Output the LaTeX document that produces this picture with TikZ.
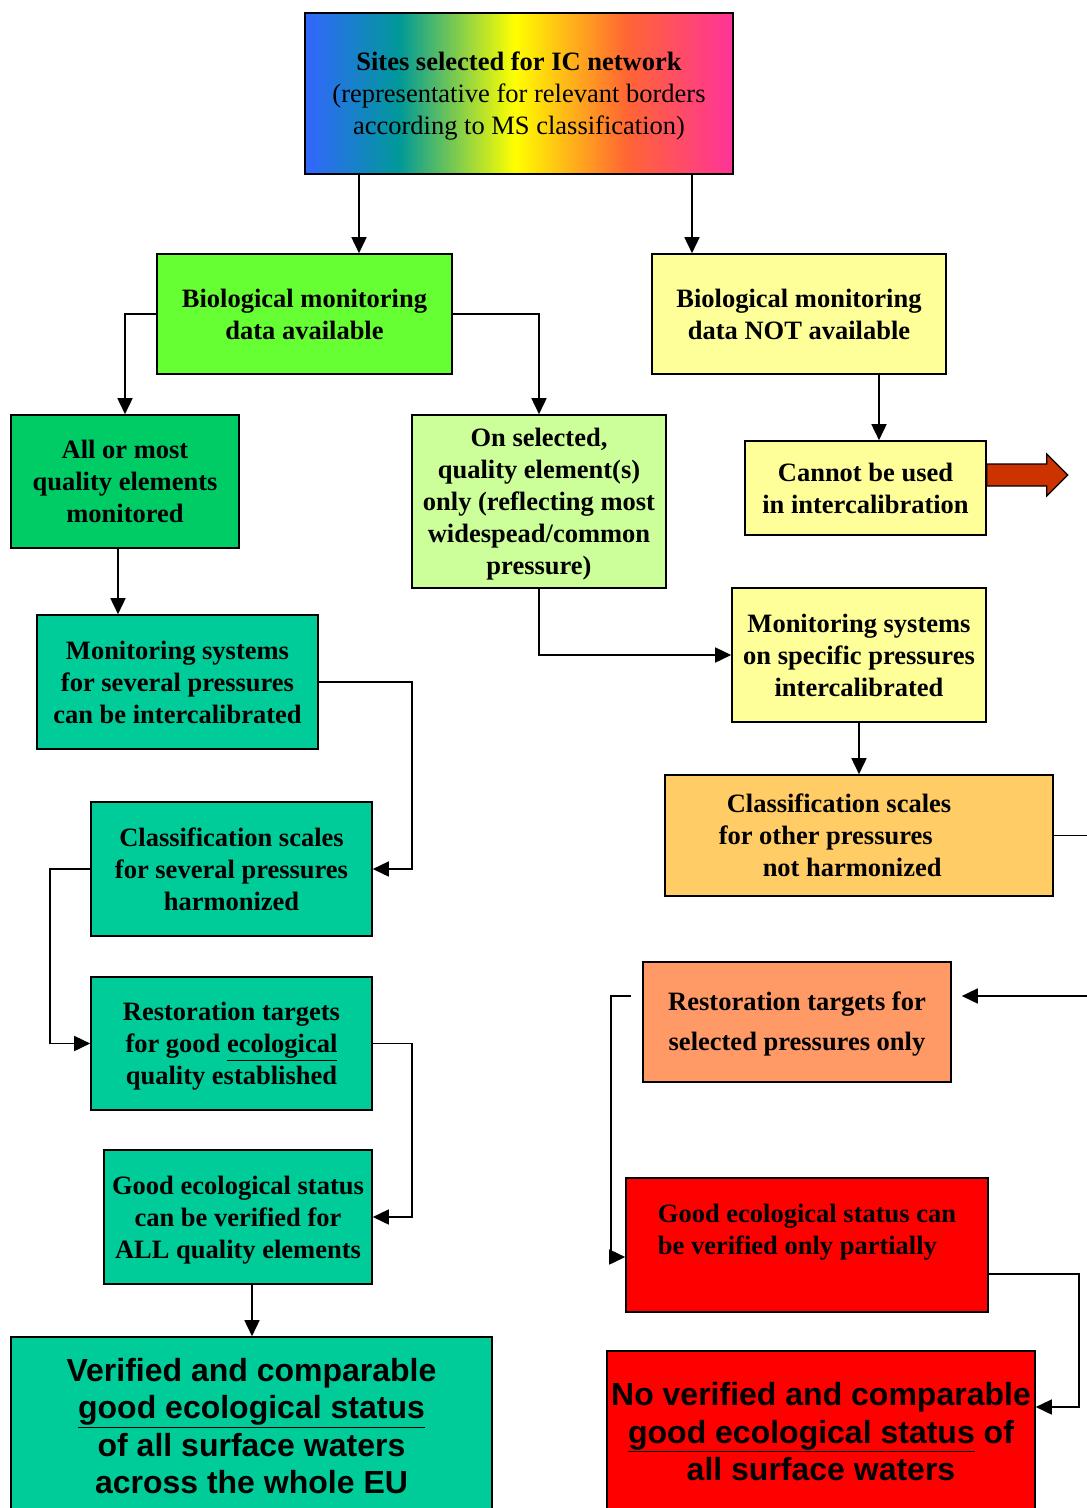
\documentclass[tikz,border=0pt]{standalone}
\usepackage{fontspec}
\setmainfont{Liberation Serif}
\newfontfamily\arialfont{Liberation Sans}
\usetikzlibrary{arrows.meta}

\definecolor{rbblue}{HTML}{3366FF}
\definecolor{rbteal}{HTML}{009999}
\definecolor{rbyellow}{HTML}{FFFF00}
\definecolor{rborange}{HTML}{FF6633}
\definecolor{rbpink}{HTML}{FF3399}
\definecolor{availgreen}{HTML}{66FF33}
\definecolor{paleyellow}{HTML}{FFFF99}
\definecolor{midgreen}{HTML}{00CC66}
\definecolor{palegreen}{HTML}{CCFF99}
\definecolor{seagreen}{HTML}{00CC99}
\definecolor{lightorange}{HTML}{FFCC66}
\definecolor{salmon}{HTML}{FF9966}
\definecolor{arrowred}{HTML}{CC3300}
\pgfdeclarehorizontalshading{rainbow}{100bp}{color(0bp)=(rbblue); color(25bp)=(rbblue); color(36bp)=(rbteal); color(49.5bp)=(rbyellow); color(62.5bp)=(rborange); color(75bp)=(rbpink); color(100bp)=(rbpink)}

\tikzset{
  box/.style={draw, line width=1.6pt, inner sep=0pt, align=center, text depth=-4pt,
    font=\bfseries\fontsize{26.5}{32}\selectfont},
  bigbox/.style={draw, line width=1.6pt, inner sep=0pt, align=center,
    font=\arialfont\bfseries\fontsize{32}{37.5}\selectfont},
  link/.style={line width=1.6pt, -{Triangle[length=16pt,width=15pt]}}
}

\begin{document}
\begin{tikzpicture}[x=1pt,y=-1pt]
	\useasboundingbox (0,0) rectangle (1087,1508);
		\node[box, shading=rainbow, minimum width=428pt, minimum height=161pt, font=\fontsize{26.5}{32}\selectfont] (sites) at (519,93.5)
			{\textbf{Sites selected for IC network}\\(representative for relevant borders\\according to MS classification)};
		\node[box, fill=availgreen, minimum width=295pt, minimum height=120pt] (avail) at (304.5,314) {Biological monitoring\\data available};
		\node[box, fill=paleyellow, minimum width=294pt, minimum height=120pt] (notavail) at (799,314) {Biological monitoring\\data NOT available};
		\node[box, fill=midgreen, minimum width=228pt, minimum height=133pt] (allmost) at (125,481.5) {All or most\\quality elements\\monitored};
		\node[box, fill=palegreen, minimum width=254pt, minimum height=173pt] (onsel) at (539,501.5) {On selected,\\quality element(s)\\only (reflecting most\\widespead/common\\pressure)};
		\node[box, fill=paleyellow, minimum width=241pt, minimum height=94pt] (cannot) at (865.5,488) {Cannot be used\\in intercalibration};
		\node[box, fill=seagreen, minimum width=281pt, minimum height=134pt] (monsev) at (177.5,682) {Monitoring systems\\for several pressures\\can be intercalibrated};
		\node[box, fill=paleyellow, minimum width=254pt, minimum height=134pt] (monspec) at (859,655) {Monitoring systems\\on specific pressures\\intercalibrated};
		\node[box, fill=seagreen, minimum width=281pt, minimum height=134pt] (clssev) at (231.5,869) {Classification scales\\for several pressures\\harmonized};
		\node[box, fill=lightorange, minimum width=388pt, minimum height=121pt, align=left] (clsother) at (859,835.5)
			{\hspace*{8pt}Classification scales\hspace*{48pt}\\for other pressures\\\hspace*{44pt}not harmonized};
		\node[box, fill=salmon, minimum width=308pt, minimum height=120pt, text depth=2pt, font=\bfseries\fontsize{26.5}{40}\selectfont] (ressel) at (797,1022) {Restoration targets for\\selected pressures only};
		\node[box, fill=seagreen, minimum width=281pt, minimum height=133pt] (resgood) at (231.5,1043.5) {Restoration targets\\for good \underline{ecological}\\quality established};
		\node[box, fill=seagreen, minimum width=268pt, minimum height=134pt] (goodall) at (238,1217) {Good ecological status\\can be verified for\\ALL quality elements};
		\node[box, fill=red, minimum width=362pt, minimum height=134pt, align=left, text depth=0pt] (partial) at (807,1245) {Good ecological status can\\be verified only partially\\\mbox{}};
		\node[bigbox, fill=seagreen, minimum width=481pt, minimum height=178pt] (verified) at (251.5,1426)
			{Verified and comparable\\\underline{good ecological status}\\of all surface waters\\across the whole EU};
		\node[bigbox, fill=red, minimum width=428pt, minimum height=162pt] (noverified) at (821,1432)
			{No verified and comparable\\\underline{good ecological status} of\\all surface waters};
	% connectors
		\draw[link] ([xshift=-160pt]sites.south) -- ([xshift=-160pt]sites.south |- avail.north);
		\draw[link] ([xshift=173pt]sites.south) -- ([xshift=173pt]sites.south |- notavail.north);
		\draw[link] (avail.west) -| (allmost.north);
		\draw[link] (avail.east) -| (onsel.north);
		\draw[link] ([xshift=80pt]notavail.south) -- ([xshift=80pt]notavail.south |- cannot.north);
		\draw[link] ([xshift=-7pt]allmost.south) -- ([xshift=-7pt]allmost.south |- monsev.north);
		\draw[link] (onsel.south) |- (monspec.west);
		\draw[link] (monspec.south) -- (clsother.north);
		\draw[link] (monsev.east) -- ++(93,0) |- (clssev.east);
		\draw[link] (clssev.west) -- ++(-40,0) |- (resgood.west);
		\draw[link] (resgood.east) -- ++(39,0) |- (goodall.east);
		\draw[link] ([xshift=14pt]goodall.south) -- ([xshift=14pt]goodall.south |- verified.north);
		\draw[link, shorten >=10pt] (clsother.east) -- ++(45,0) |- ([yshift=26pt]ressel.east);
		\draw[link] ([xshift=-11pt,yshift=26pt]ressel.west) -- ++(-20,0) |- ([yshift=-12pt]partial.west);
		\draw[link] ([yshift=-29pt]partial.east) -- ++(90,0) |- ([yshift=25pt]noverified.east);
	% fat arrow
		\draw[line width=1.2pt, fill=arrowred] ([yshift=24pt]cannot.east) -- ++(60,0) -- ++(0,-10) -- ++(21,21) -- ++(-21,21) -- ++(0,-10) -- ([yshift=2pt]cannot.east) -- cycle;
\end{tikzpicture}
\end{document}
